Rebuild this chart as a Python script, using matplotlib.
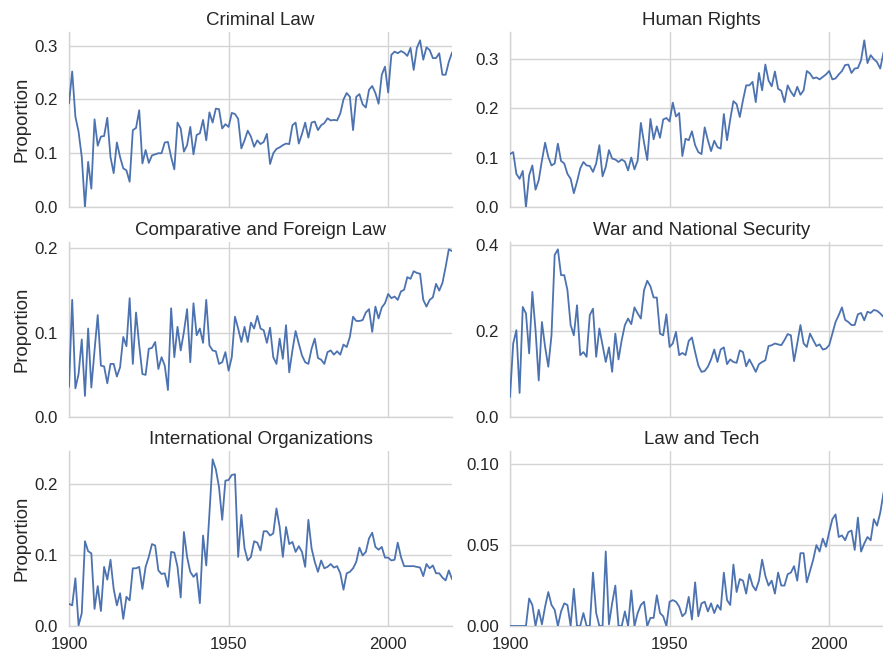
import matplotlib
matplotlib.use("Agg")
import matplotlib.pyplot as plt

years = list(range(1900, 2021))

criminal_law = [
    0.193, 0.252, 0.168, 0.140, 0.093, 0.000, 0.084, 0.034, 0.163, 0.114,
    0.131, 0.132, 0.166, 0.093, 0.063, 0.120, 0.093, 0.072, 0.068, 0.047,
    0.143, 0.147, 0.180, 0.081, 0.106, 0.082, 0.096, 0.098, 0.100, 0.100,
    0.120, 0.121, 0.093, 0.070, 0.157, 0.146, 0.103, 0.115, 0.149, 0.098,
    0.134, 0.137, 0.162, 0.124, 0.176, 0.157, 0.183, 0.182, 0.146, 0.154,
    0.149, 0.175, 0.173, 0.164, 0.109, 0.124, 0.142, 0.131, 0.112, 0.124,
    0.117, 0.121, 0.136, 0.080, 0.100, 0.108, 0.111, 0.115, 0.118, 0.117,
    0.152, 0.157, 0.118, 0.136, 0.157, 0.129, 0.157, 0.159, 0.143, 0.152,
    0.156, 0.165, 0.161, 0.162, 0.161, 0.174, 0.200, 0.212, 0.205, 0.143,
    0.205, 0.210, 0.191, 0.185, 0.218, 0.225, 0.212, 0.192, 0.246, 0.261,
    0.213, 0.283, 0.289, 0.286, 0.290, 0.287, 0.281, 0.296, 0.255, 0.296,
    0.310, 0.274, 0.297, 0.292, 0.277, 0.277, 0.286, 0.246, 0.246, 0.270,
    0.287,
]

human_rights = [
    0.107, 0.111, 0.067, 0.057, 0.073, 0.000, 0.064, 0.084, 0.035, 0.054,
    0.094, 0.130, 0.101, 0.084, 0.088, 0.128, 0.093, 0.088, 0.067, 0.057,
    0.028, 0.051, 0.078, 0.091, 0.084, 0.083, 0.071, 0.088, 0.125, 0.062,
    0.081, 0.115, 0.098, 0.096, 0.091, 0.096, 0.092, 0.074, 0.100, 0.076,
    0.094, 0.170, 0.130, 0.095, 0.178, 0.137, 0.163, 0.140, 0.177, 0.180,
    0.173, 0.211, 0.183, 0.190, 0.103, 0.138, 0.135, 0.153, 0.125, 0.111,
    0.107, 0.161, 0.135, 0.113, 0.134, 0.121, 0.118, 0.188, 0.135, 0.177,
    0.214, 0.208, 0.182, 0.216, 0.246, 0.246, 0.253, 0.212, 0.271, 0.236,
    0.288, 0.256, 0.244, 0.274, 0.239, 0.235, 0.212, 0.246, 0.233, 0.224,
    0.243, 0.227, 0.236, 0.275, 0.270, 0.260, 0.262, 0.258, 0.263, 0.268,
    0.275, 0.258, 0.260, 0.268, 0.275, 0.287, 0.288, 0.271, 0.280, 0.281,
    0.297, 0.337, 0.291, 0.307, 0.299, 0.293, 0.280, 0.312, 0.305, 0.310,
    0.300,
]

comparative_foreign = [
    0.036, 0.139, 0.034, 0.051, 0.092, 0.025, 0.105, 0.035, 0.079, 0.121,
    0.061, 0.060, 0.040, 0.063, 0.063, 0.048, 0.059, 0.095, 0.084, 0.141,
    0.063, 0.124, 0.085, 0.051, 0.050, 0.081, 0.082, 0.089, 0.057, 0.071,
    0.061, 0.032, 0.129, 0.071, 0.107, 0.079, 0.101, 0.128, 0.065, 0.135,
    0.097, 0.105, 0.088, 0.139, 0.085, 0.079, 0.078, 0.063, 0.065, 0.077,
    0.055, 0.071, 0.119, 0.105, 0.089, 0.107, 0.089, 0.112, 0.105, 0.120,
    0.105, 0.103, 0.088, 0.106, 0.071, 0.063, 0.093, 0.069, 0.109, 0.053,
    0.079, 0.102, 0.087, 0.073, 0.065, 0.063, 0.081, 0.093, 0.070, 0.068,
    0.063, 0.077, 0.079, 0.074, 0.078, 0.074, 0.086, 0.083, 0.095, 0.119,
    0.114, 0.114, 0.115, 0.124, 0.128, 0.101, 0.131, 0.117, 0.130, 0.135,
    0.146, 0.141, 0.143, 0.139, 0.149, 0.151, 0.166, 0.164, 0.173, 0.171,
    0.170, 0.139, 0.131, 0.139, 0.142, 0.158, 0.150, 0.159, 0.178, 0.199,
    0.197,
]

war_security = [
    0.047, 0.171, 0.202, 0.056, 0.256, 0.241, 0.148, 0.291, 0.202, 0.085,
    0.221, 0.163, 0.117, 0.190, 0.377, 0.390, 0.330, 0.330, 0.295, 0.214,
    0.190, 0.260, 0.144, 0.151, 0.140, 0.237, 0.252, 0.140, 0.206, 0.167,
    0.128, 0.162, 0.105, 0.194, 0.134, 0.179, 0.214, 0.229, 0.216, 0.255,
    0.241, 0.229, 0.295, 0.317, 0.304, 0.278, 0.278, 0.194, 0.190, 0.239,
    0.163, 0.171, 0.198, 0.144, 0.149, 0.144, 0.177, 0.185, 0.151, 0.120,
    0.105, 0.107, 0.117, 0.134, 0.157, 0.128, 0.157, 0.162, 0.123, 0.134,
    0.128, 0.126, 0.155, 0.151, 0.118, 0.134, 0.120, 0.105, 0.123, 0.128,
    0.132, 0.165, 0.167, 0.171, 0.169, 0.167, 0.179, 0.193, 0.190, 0.130,
    0.171, 0.214, 0.171, 0.163, 0.194, 0.179, 0.165, 0.169, 0.157, 0.159,
    0.167, 0.194, 0.221, 0.237, 0.255, 0.226, 0.221, 0.214, 0.214, 0.239,
    0.242, 0.225, 0.245, 0.242, 0.249, 0.247, 0.241, 0.233, 0.230, 0.235,
    0.228,
]

international_orgs = [
    0.031, 0.029, 0.067, 0.001, 0.018, 0.119, 0.105, 0.102, 0.024, 0.056,
    0.021, 0.083, 0.065, 0.093, 0.052, 0.029, 0.046, 0.010, 0.041, 0.036,
    0.081, 0.081, 0.083, 0.052, 0.083, 0.097, 0.115, 0.113, 0.078, 0.073,
    0.074, 0.055, 0.104, 0.103, 0.083, 0.040, 0.132, 0.097, 0.076, 0.069,
    0.074, 0.032, 0.127, 0.085, 0.158, 0.234, 0.220, 0.195, 0.149, 0.204,
    0.205, 0.212, 0.213, 0.097, 0.156, 0.109, 0.092, 0.097, 0.119, 0.117,
    0.106, 0.133, 0.133, 0.127, 0.130, 0.165, 0.139, 0.097, 0.139, 0.115,
    0.118, 0.104, 0.112, 0.104, 0.083, 0.149, 0.109, 0.090, 0.076, 0.092,
    0.081, 0.083, 0.087, 0.082, 0.084, 0.074, 0.051, 0.074, 0.076, 0.081,
    0.090, 0.110, 0.099, 0.104, 0.123, 0.131, 0.111, 0.107, 0.111, 0.096,
    0.096, 0.092, 0.093, 0.117, 0.097, 0.084, 0.084, 0.084, 0.084, 0.083,
    0.082, 0.070, 0.087, 0.081, 0.085, 0.074, 0.074, 0.068, 0.064, 0.078,
    0.066,
]

law_tech = [
    0.000, 0.000, 0.000, 0.000, 0.000, 0.000, 0.017, 0.013, 0.000, 0.010,
    0.001, 0.012, 0.021, 0.013, 0.010, 0.000, 0.009, 0.014, 0.013, 0.000,
    0.023, 0.000, 0.000, 0.008, 0.000, 0.000, 0.033, 0.008, 0.000, 0.000,
    0.046, 0.001, 0.014, 0.025, 0.000, 0.000, 0.009, 0.000, 0.022, 0.000,
    0.008, 0.013, 0.015, 0.000, 0.005, 0.005, 0.019, 0.008, 0.006, 0.000,
    0.015, 0.016, 0.015, 0.012, 0.006, 0.008, 0.018, 0.004, 0.027, 0.006,
    0.014, 0.015, 0.009, 0.014, 0.008, 0.013, 0.010, 0.033, 0.016, 0.013,
    0.038, 0.021, 0.029, 0.028, 0.020, 0.032, 0.025, 0.022, 0.028, 0.041,
    0.031, 0.025, 0.028, 0.020, 0.033, 0.025, 0.025, 0.032, 0.033, 0.037,
    0.028, 0.045, 0.045, 0.027, 0.034, 0.041, 0.050, 0.046, 0.054, 0.049,
    0.058, 0.066, 0.069, 0.055, 0.056, 0.053, 0.058, 0.059, 0.047, 0.067,
    0.046, 0.051, 0.055, 0.053, 0.066, 0.062, 0.070, 0.082, 0.092, 0.103,
    0.098,
]

panels = [
    ("Criminal Law", criminal_law, [0.0, 0.1, 0.2, 0.3], "{:.1f}"),
    ("Human Rights", human_rights, [0.0, 0.1, 0.2, 0.3], "{:.1f}"),
    ("Comparative and Foreign Law", comparative_foreign, [0.0, 0.1, 0.2], "{:.1f}"),
    ("War and National Security", war_security, [0.0, 0.2, 0.4], "{:.1f}"),
    ("International Organizations", international_orgs, [0.0, 0.1, 0.2], "{:.1f}"),
    ("Law and Tech", law_tech, [0.00, 0.05, 0.10], "{:.2f}"),
]
x_ticks = [1900, 1950, 2000]

plt.rcParams["font.family"] = ["Liberation Sans", "DejaVu Sans"]
text_color = "#262626"
grid_color = "#d4d4d4"
line_color = "#4c72b0"

W, H = 883.0, 654.0
col_left = [69 / W, 510 / W]
ax_w = 383 / W
row_bottom = [1 - 207 / H, 1 - 417 / H, 1 - 626 / H]
ax_h = 175 / H

fig = plt.figure(figsize=(8.83, 6.54), dpi=100)
fig.patch.set_facecolor("white")

for i, (title, vals, yt, fmt) in enumerate(panels):
    r, c = divmod(i, 2)
    ax = fig.add_axes([col_left[c], row_bottom[r], ax_w, ax_h])
    ax.set_facecolor("white")
    ax.plot(years, vals, color=line_color, lw=1.3, zorder=3)
    ax.set_xlim(1900, 2020)
    ax.set_ylim(bottom=0)
    ax.set_yticks(yt)
    ax.set_yticklabels([fmt.format(v) for v in yt])
    ax.set_xticks(x_ticks)
    if r == 2:
        ax.set_xticklabels([str(v) for v in x_ticks])
    else:
        ax.set_xticklabels([])
    ax.grid(True, color=grid_color, lw=1.0, zorder=0)
    ax.set_axisbelow(True)
    for s in ["top", "right"]:
        ax.spines[s].set_visible(False)
    for s in ["left", "bottom"]:
        ax.spines[s].set_color(grid_color)
        ax.spines[s].set_linewidth(1.0)
    ax.tick_params(axis="both", length=0, pad=8, labelsize=12.2, labelcolor=text_color)
    ax.set_title(title, fontsize=13.5, color=text_color, pad=5)
    if c == 0:
        ax.set_ylabel("Proportion", fontsize=13.4, color=text_color, labelpad=3)

fig.savefig("out.png", dpi=100, facecolor="white")
